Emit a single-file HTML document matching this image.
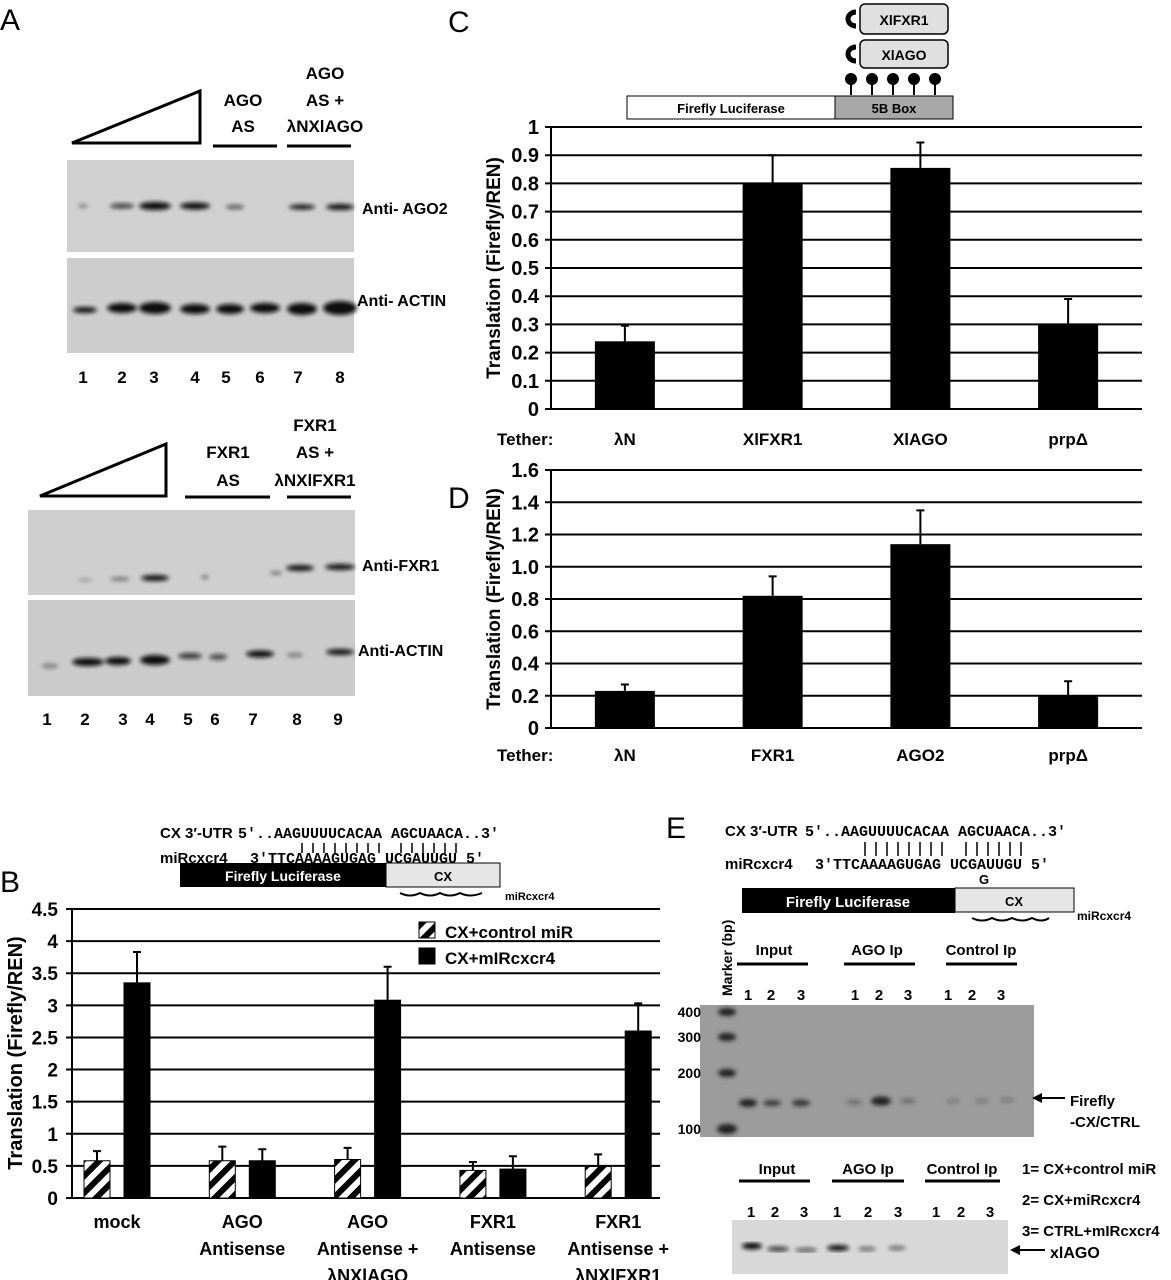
<!DOCTYPE html>
<html><head><meta charset="utf-8"><style>
html,body{margin:0;padding:0;background:#fff;}
svg{display:block;font-family:"Liberation Sans",Arial,sans-serif;}
.b{font-weight:bold;}
</style></head><body>
<svg id="fig" width="1171" height="1280" viewBox="0 0 1171 1280">
<defs>
<pattern id="hatch" patternUnits="userSpaceOnUse" width="12" height="12" patternTransform="rotate(45)">
<rect width="12" height="12" fill="#fff"/><rect width="6" height="12" fill="#000"/></pattern>
<filter id="blur2"><feGaussianBlur stdDeviation="2"/></filter>
</defs>
<!-- Panel letters -->
<text x="0" y="30" font-size="30">A</text>
<text x="448" y="32" font-size="30">C</text>
<text x="0" y="892" font-size="30">B</text>
<text x="448" y="508" font-size="30">D</text>
<text x="666" y="838" font-size="30">E</text>

<!-- Panel A top -->
<g class="b" font-size="17">
<polygon points="72,143 200,143 200,91" fill="none" stroke="#000" stroke-width="3"/>
<text x="243" y="106" text-anchor="middle">AGO</text><text x="243" y="132" text-anchor="middle">AS</text>
<line x1="213" y1="146" x2="277" y2="146" stroke="#000" stroke-width="3"/>
<text x="325" y="79" text-anchor="middle">AGO</text><text x="325" y="106" text-anchor="middle">AS +</text><text x="325" y="132" text-anchor="middle">λNXlAGO</text>
<line x1="287" y1="146" x2="351" y2="146" stroke="#000" stroke-width="3"/>
<rect x="67" y="160" width="287" height="92" fill="#d0d0d0"/>
<rect x="67" y="258" width="287" height="95" fill="#cdcdcd"/>
<g filter="url(#blur2)" fill="#111">
<ellipse cx="83" cy="206" rx="5" ry="1.5" opacity=".5"/><ellipse cx="122" cy="206" rx="12" ry="2.5" opacity=".8"/>
<ellipse cx="155" cy="206" rx="16" ry="4"/><ellipse cx="195" cy="206" rx="15" ry="3.5"/><ellipse cx="235" cy="207" rx="9" ry="2" opacity=".7"/>
<ellipse cx="302" cy="207" rx="13" ry="2.5"/><ellipse cx="340" cy="207" rx="14" ry="3"/>
<ellipse cx="85" cy="310" rx="12" ry="3"/><ellipse cx="122" cy="308" rx="15" ry="5"/><ellipse cx="155" cy="308" rx="16" ry="6"/>
<ellipse cx="195" cy="309" rx="15" ry="5"/><ellipse cx="230" cy="309" rx="14" ry="5"/><ellipse cx="265" cy="308" rx="15" ry="5"/>
<ellipse cx="302" cy="309" rx="15" ry="6"/><ellipse cx="340" cy="308" rx="17" ry="7"/></g>
<text x="362" y="214" font-size="16">Anti- AGO2</text><text x="357" y="306" font-size="16">Anti- ACTIN</text>
<g font-size="17" text-anchor="middle"><text x="83" y="383">1</text><text x="122" y="383">2</text><text x="154" y="383">3</text><text x="195" y="383">4</text><text x="226" y="383">5</text><text x="260" y="383">6</text><text x="298" y="383">7</text><text x="340" y="383">8</text></g>
</g>
<!-- Panel A bottom -->
<g class="b" font-size="17">
<polygon points="40,496 166,496 166,444" fill="none" stroke="#000" stroke-width="3"/>
<text x="228" y="458" text-anchor="middle">FXR1</text><text x="228" y="486" text-anchor="middle">AS</text>
<line x1="185" y1="497" x2="270" y2="497" stroke="#000" stroke-width="3"/>
<text x="315" y="431" text-anchor="middle">FXR1</text><text x="315" y="458" text-anchor="middle">AS +</text><text x="315" y="486" text-anchor="middle">λNXlFXR1</text>
<line x1="287" y1="497" x2="351" y2="497" stroke="#000" stroke-width="3"/>
<rect x="28" y="510" width="327" height="85" fill="#cfcfcf"/>
<rect x="28" y="600" width="327" height="96" fill="#cbcbcb"/>
<g filter="url(#blur2)" fill="#111">
<ellipse cx="85" cy="580" rx="8" ry="1" opacity=".4"/><ellipse cx="120" cy="579" rx="10" ry="1.5" opacity=".6"/><ellipse cx="155" cy="578" rx="14" ry="3"/>
<ellipse cx="205" cy="577" rx="4" ry="1.5" opacity=".6"/><ellipse cx="276" cy="573" rx="6" ry="1.5" opacity=".6"/>
<ellipse cx="300" cy="568" rx="14" ry="3"/><ellipse cx="340" cy="567" rx="15" ry="3"/>
<ellipse cx="50" cy="666" rx="8" ry="2" opacity=".5"/><ellipse cx="88" cy="662" rx="16" ry="4"/><ellipse cx="118" cy="661" rx="13" ry="4"/>
<ellipse cx="155" cy="660" rx="15" ry="5"/><ellipse cx="190" cy="656" rx="12" ry="3" opacity=".8"/><ellipse cx="218" cy="657" rx="9" ry="3" opacity=".7"/>
<ellipse cx="260" cy="654" rx="14" ry="3.5"/><ellipse cx="295" cy="655" rx="8" ry="2" opacity=".5"/><ellipse cx="340" cy="652" rx="14" ry="3"/></g>
<text x="362" y="571" font-size="16">Anti-FXR1</text><text x="358" y="656" font-size="16">Anti-ACTIN</text>
<g font-size="17" text-anchor="middle"><text x="47" y="725">1</text><text x="85" y="725">2</text><text x="123" y="725">3</text><text x="150" y="725">4</text><text x="188" y="725">5</text><text x="215" y="725">6</text><text x="253" y="725">7</text><text x="297" y="725">8</text><text x="338" y="725">9</text></g>
</g>

<!-- Panel C diagram -->
<g class="b" font-size="13">
<rect x="860" y="4" width="88" height="30" rx="5" fill="#e0e0e0" stroke="#000" stroke-width="1.5"/>
<text x="904" y="25" text-anchor="middle" font-size="14">XlFXR1</text>
<rect x="860" y="40" width="88" height="28" rx="5" fill="#e0e0e0" stroke="#000" stroke-width="1.5"/>
<text x="904" y="60" text-anchor="middle" font-size="14">XlAGO</text>
<path d="M856,12 a8,7 0 1 0 0,14" fill="none" stroke="#000" stroke-width="5"/>
<path d="M856,47 a8,7 0 1 0 0,14" fill="none" stroke="#000" stroke-width="5"/>
<g stroke="#000" stroke-width="2" fill="#000">
<line x1="851" y1="80" x2="851" y2="95"/><circle cx="851" cy="79" r="5"/>
<line x1="872" y1="80" x2="872" y2="95"/><circle cx="872" cy="79" r="5"/>
<line x1="893" y1="80" x2="893" y2="95"/><circle cx="893" cy="79" r="5"/>
<line x1="914" y1="80" x2="914" y2="95"/><circle cx="914" cy="79" r="5"/>
<line x1="935" y1="80" x2="935" y2="95"/><circle cx="935" cy="79" r="5"/></g>
<rect x="627" y="96" width="208" height="23" fill="#fff" stroke="#000"/>
<rect x="835" y="96" width="118" height="23" fill="#a8a8a8" stroke="#000"/>
<text x="731" y="113" text-anchor="middle">Firefly Luciferase</text>
<text x="894" y="113" text-anchor="middle">5B Box</text>
</g>
<g id="chartC"></g>
<g id="chartD"></g>

<!-- Panel B diagram -->
<g class="b">
<text x="160" y="838" font-size="15">CX 3′-UTR</text>
<text x="238" y="838" font-size="15" font-family="Liberation Mono,monospace">5′..AAGUUUUCACAA AGCUAACA..3′</text>
<text x="160" y="863" font-size="15">miRcxcr4</text>
<text x="250" y="863" font-size="15" font-family="Liberation Mono,monospace">3′TTCAAAAGUGAG UCGAUUGU  5′</text>
<text x="466" y="882" font-size="13">G</text>
<g stroke="#000" stroke-width="1.5">
<path d="M302,843v10M313,843v10M324,843v10M335,843v10M346,843v10M357,843v10M368,843v10M379,843v10M401,843v10M412,843v10M423,843v10M434,843v10M445,843v10M456,843v10"/></g>
<rect x="180" y="863" width="206" height="24" fill="#000"/>
<rect x="386" y="863" width="114" height="24" fill="#e6e6e6" stroke="#000"/>
<text x="283" y="881" text-anchor="middle" fill="#fff" font-size="14">Firefly Luciferase</text>
<text x="443" y="881" text-anchor="middle" font-size="13">CX</text>
<path d="M400,893 q10,5 20,0 q10,5 20,0 q10,5 20,0 q10,5 22,0" fill="none" stroke="#000" stroke-width="2"/>
<text x="505" y="900" font-size="11">miRcxcr4</text>
</g>
<g id="chartB"></g>

<!-- Panel E -->
<g class="b">
<text x="725" y="836" font-size="15">CX 3′-UTR</text>
<text x="805" y="836" font-size="15" font-family="Liberation Mono,monospace">5′..AAGUUUUCACAA AGCUAACA..3′</text>
<text x="725" y="869" font-size="15">miRcxcr4</text>
<text x="815" y="869" font-size="15" font-family="Liberation Mono,monospace">3′TTCAAAAGUGAG UCGAUUGU  5′</text>
<text x="979" y="884" font-size="13">G</text>
<g stroke="#000" stroke-width="1.5"><path d="M865,842v14M876,842v14M887,842v14M898,842v14M909,842v14M920,842v14M931,842v14M942,842v14M966,842v14M977,842v14M988,842v14M999,842v14M1010,842v14M1021,842v14"/></g>
<rect x="742" y="888" width="213" height="25" fill="#000"/>
<rect x="955" y="888" width="119" height="24" fill="#e6e6e6" stroke="#000"/>
<text x="848" y="907" text-anchor="middle" fill="#fff" font-size="15">Firefly Luciferase</text>
<text x="1014" y="906" text-anchor="middle" font-size="13">CX</text>
<path d="M972,918 q10,5 20,0 q10,5 20,0 q10,5 20,0 q10,5 17,0" fill="none" stroke="#000" stroke-width="2"/>
<text x="1077" y="920" font-size="12">miRcxcr4</text>
<text transform="translate(732,996) rotate(-90)" font-size="14">Marker (bp)</text>
<g font-size="15" text-anchor="middle"><text x="774" y="955">Input</text><text x="877" y="955">AGO Ip</text><text x="981" y="955">Control Ip</text></g>
<g stroke="#000" stroke-width="3"><line x1="737" y1="964" x2="808" y2="964"/><line x1="844" y1="964" x2="915" y2="964"/><line x1="946" y1="964" x2="1017" y2="964"/></g>
<g font-size="15" text-anchor="middle"><text x="748" y="1000">1</text><text x="771" y="1000">2</text><text x="801" y="1000">3</text><text x="855" y="1000">1</text><text x="879" y="1000">2</text><text x="908" y="1000">3</text><text x="948" y="1000">1</text><text x="972" y="1000">2</text><text x="1001" y="1000">3</text></g>
<rect x="700" y="1005" width="334" height="132" fill="#9c9c9c"/>
<g filter="url(#blur2)" fill="#222">
<ellipse cx="727" cy="1012" rx="9" ry="4"/><ellipse cx="727" cy="1037" rx="9" ry="4"/><ellipse cx="727" cy="1073" rx="9" ry="4"/><ellipse cx="727" cy="1129" rx="10" ry="5"/>
<ellipse cx="748" cy="1103" rx="9" ry="4"/><ellipse cx="772" cy="1103" rx="9" ry="3" opacity=".8"/><ellipse cx="801" cy="1103" rx="9" ry="3.5" opacity=".8"/>
<ellipse cx="854" cy="1102" rx="8" ry="2.5" opacity=".4"/><ellipse cx="881" cy="1101" rx="10" ry="4.5"/><ellipse cx="908" cy="1101" rx="8" ry="2.5" opacity=".4"/>
<ellipse cx="953" cy="1101" rx="7" ry="2" opacity=".3"/><ellipse cx="982" cy="1101" rx="7" ry="2" opacity=".3"/><ellipse cx="1007" cy="1100" rx="7" ry="2" opacity=".3"/></g>
<g font-size="14" text-anchor="end"><text x="701" y="1017">400</text><text x="701" y="1042">300</text><text x="701" y="1078">200</text><text x="701" y="1134">100</text></g>
<line x1="1035" y1="1098" x2="1065" y2="1098" stroke="#000" stroke-width="2"/><polygon points="1032,1098 1042,1093 1042,1103" fill="#000"/>
<text x="1070" y="1106" font-size="15">Firefly</text><text x="1070" y="1127" font-size="15">-CX/CTRL</text>
<g font-size="15" text-anchor="middle"><text x="777" y="1174">Input</text><text x="868" y="1174">AGO Ip</text><text x="962" y="1174">Control Ip</text></g>
<g stroke="#000" stroke-width="3"><line x1="739" y1="1181" x2="810" y2="1181"/><line x1="832" y1="1181" x2="904" y2="1181"/><line x1="925" y1="1181" x2="1000" y2="1181"/></g>
<g font-size="15" text-anchor="middle"><text x="751" y="1217">1</text><text x="775" y="1217">2</text><text x="804" y="1217">3</text><text x="837" y="1217">1</text><text x="868" y="1217">2</text><text x="898" y="1217">3</text><text x="936" y="1217">1</text><text x="961" y="1217">2</text><text x="990" y="1217">3</text></g>
<rect x="732" y="1220" width="276" height="54" fill="#d8d8d8"/>
<g filter="url(#blur2)" fill="#111">
<ellipse cx="752" cy="1246" rx="10" ry="3.5"/><ellipse cx="778" cy="1249" rx="11" ry="2.5" opacity=".8"/><ellipse cx="806" cy="1250" rx="11" ry="2" opacity=".7"/>
<ellipse cx="838" cy="1248" rx="11" ry="3"/><ellipse cx="867" cy="1249" rx="9" ry="2" opacity=".6"/><ellipse cx="897" cy="1248" rx="9" ry="2" opacity=".6"/></g>
<line x1="1013" y1="1250" x2="1045" y2="1250" stroke="#000" stroke-width="2"/><polygon points="1010,1250 1020,1245 1020,1255" fill="#000"/>
<text x="1050" y="1258" font-size="16">xlAGO</text>
<g font-size="15"><text x="1022" y="1174">1= CX+control miR</text><text x="1022" y="1205">2= CX+miRcxcr4</text><text x="1022" y="1236">3= CTRL+mIRcxcr4</text></g>
</g>
</svg>
<script>
// Chart C data
var cCats=["λN","XlFXR1","XlAGO","prpΔ"];
var cVals=[0.24,0.80,0.855,0.30];
var cErrs=[0.055,0.10,0.09,0.09];
var cTicks=["0","0.1","0.2","0.3","0.4","0.5","0.6","0.7","0.8","0.9","1"];
// Chart D data
var dCats=["λN","FXR1","AGO2","prpΔ"];
var dVals=[0.23,0.82,1.14,0.20];
var dErrs=[0.04,0.12,0.21,0.09];
var dTicks=["0","0.2","0.4","0.6","0.8","1.0","1.2","1.4","1.6"];
// Chart B data
var bCats=[["mock"],["AGO","Antisense"],["AGO","Antisense +","λNXlAGO"],["FXR1","Antisense"],["FXR1","Antisense +","λNXlFXR1"]];
var bControl=[0.58,0.58,0.60,0.43,0.49];
var bControlErr=[0.15,0.22,0.18,0.13,0.19];
var bMir=[3.35,0.58,3.08,0.45,2.60];
var bMirErr=[0.48,0.18,0.52,0.20,0.43];
var bTicks=["0","0.5","1","1.5","2","2.5","3","3.5","4","4.5"];
var bLegend=["CX+control miR","CX+mIRcxcr4"];

var NS="http://www.w3.org/2000/svg";
function mk(p,t,a){var e=document.createElementNS(NS,t);for(var k in a)e.setAttribute(k,a[k]);p.appendChild(e);return e;}

function tetherChart(g,cats,vals,errs,ticks,x0,x1,yTop,yBot,tickY,title,titleY){
  var max=parseFloat(ticks[ticks.length-1]);
  function y(v){return yBot-(v/max)*(yBot-yTop);}
  var step=(x1-x0)/cats.length;
  function xc(i){return x0+step*(i+0.5);}
  ticks.forEach(function(t){
    var v=parseFloat(t);
    var l=mk(g,"line",{x1:x0-6,x2:x1,y1:y(v),y2:y(v),stroke:"#000","stroke-width":2});
    
    
    var tx=mk(g,"text",{x:x0-12,y:y(v)+7,"text-anchor":"end","font-size":20,"font-weight":"bold"});
    tx.textContent=t;
    
    
  });
  var ax=mk(g,"line",{x1:x0,x2:x0,y1:yTop,y2:yBot,stroke:"#000","stroke-width":2});
  
  
  cats.forEach(function(c,i){
    var w=60, cx=xc(i);
    var r=mk(g,"rect",{x:cx-w/2,y:y(vals[i]),width:w,height:yBot-y(vals[i]),fill:"#000"});
    
    
    var e=mk(g,"path",{d:"M"+cx+","+y(vals[i])+"V"+y(vals[i]+errs[i])+"M"+(cx-4)+","+y(vals[i]+errs[i])+"H"+(cx+4),stroke:"#000","stroke-width":2,fill:"none"});
    
    
    var t=mk(g,"text",{x:cx,y:tickY,"text-anchor":"middle","font-size":17,"font-weight":"bold"});
    t.textContent=c;
    
    
  });
  var th=mk(g,"text",{x:497,y:tickY,"font-size":17,"font-weight":"bold"});
  th.textContent="Tether:";
  
  
  var yt=mk(g,"text",{transform:"translate(500,"+titleY+") rotate(-90)","text-anchor":"middle","font-size":19,"font-weight":"bold"});
  yt.textContent=title;
  
  
}
tetherChart(document.getElementById("chartC"),cCats,cVals,cErrs,cTicks,551,1142,127,409,445,"Translation (Firefly/REN)",268);
tetherChart(document.getElementById("chartD"),dCats,dVals,dErrs,dTicks,551,1142,470,728,761,"Translation (Firefly/REN)",599);

(function(){
  var g=document.getElementById("chartB");
  var x0=72,x1=660,yTop=909,yBot=1198,max=4.5;
  function y(v){return yBot-(v/max)*(yBot-yTop);}
  function gc(i){return 117+125.3*i;}
  bTicks.forEach(function(t){
    var v=parseFloat(t);
    var l=mk(g,"line",{x1:x0-6,x2:x1,y1:y(v),y2:y(v),stroke:"#000","stroke-width":2});
    
    
    var tx=mk(g,"text",{x:58,y:y(v)+7,"text-anchor":"end","font-size":19,"font-weight":"bold"});
    tx.textContent=t;
    
    
  });
  var ax=mk(g,"line",{x1:x0,x2:x0,y1:yTop,y2:yBot,stroke:"#000","stroke-width":2});
  
  
  function bar(cx,v,e,fill,name){
    var r=mk(g,"rect",{x:cx-13,y:y(v),width:26,height:yBot-y(v),fill:fill,stroke:"#000","stroke-width":1});
    
    
    var p=mk(g,"path",{d:"M"+cx+","+y(v)+"V"+y(v+e)+"M"+(cx-4)+","+y(v+e)+"H"+(cx+4),stroke:"#000","stroke-width":2,fill:"none"});
    
    
  }
  bCats.forEach(function(c,i){
    var cx=gc(i);
    bar(cx-20,bControl[i],bControlErr[i],"url(#hatch)","bar-control-"+i);
    bar(cx+20,bMir[i],bMirErr[i],"#000","bar-mir-"+i);
    c.forEach(function(line,j){
      var t=mk(g,"text",{x:cx,y:1228+j*27,"text-anchor":"middle","font-size":18,"font-weight":"bold"});
      t.textContent=line;
      
      
    });
  });
  var yt=mk(g,"text",{transform:"translate(22,1053) rotate(-90)","text-anchor":"middle","font-size":20,"font-weight":"bold"});
  yt.textContent="Translation (Firefly/REN)";
  
  
  var fills=["url(#hatch)","#000"];
  bLegend.forEach(function(s,i){
    var r=mk(g,"rect",{x:419,y:922+i*26,width:16,height:16,fill:fills[i],stroke:"#000"});
    
    
    var t=mk(g,"text",{x:445,y:938+i*26,"font-size":17,"font-weight":"bold"});
    t.textContent=s;
    
    
  });
})();
</script>
</body></html>
